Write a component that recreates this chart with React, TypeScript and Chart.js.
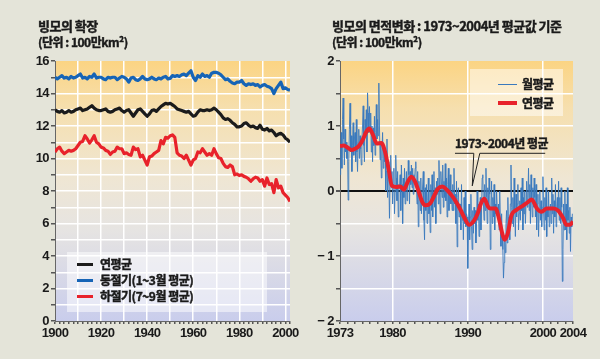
import { useEffect, useRef } from 'react';
import { Chart, registerables } from 'chart.js';

Chart.register(...registerables);

const NUM_FONT = "'Liberation Sans', Arial, sans-serif";
const KFONT = "'Noto Sans CJK KR', 'Noto Sans', sans-serif";

// ---------- Left chart: sea-ice extent (million km²), yearly 1900-2002 ----------
const extentStartYear = 1900;
const winterExtent = [
  15.0, 14.9, 15.0, 15.1, 14.95, 15.0, 14.9, 15.05, 14.95, 15.0,
  15.1, 15.2, 14.95, 15.0, 14.9, 15.05, 15.0, 15.2, 14.95, 15.0,
  15.0, 14.9, 14.85, 15.0, 14.95, 15.0, 15.0, 14.85, 14.95, 15.05,
  15.0, 14.9, 14.7, 14.95, 15.0, 14.85, 14.8, 14.9, 15.05, 14.9,
  14.85, 14.9, 15.0, 14.9, 14.85, 14.95, 14.9, 15.0, 15.05, 14.9,
  14.93, 15.1, 15.05, 15.1, 15.05, 15.15, 15.2, 15.1, 15.25, 15.4,
  15.0, 14.8, 15.1, 15.0, 15.2, 15.05, 15.1, 15.0, 15.25, 15.3,
  15.3, 15.25, 15.15, 15.0, 14.85, 14.9, 14.75, 14.65, 14.6, 14.7,
  14.7, 14.8, 14.6, 14.5, 14.6, 14.55, 14.6, 14.5, 14.55, 14.4,
  14.5, 14.55, 14.45, 14.4, 14.3, 14.0, 14.3, 14.5, 14.7, 14.3,
  14.35, 14.25, 14.2,
];
const annualExtent = [
  13.0, 12.9, 12.85, 12.95, 12.8, 12.85, 12.95, 12.85, 12.9, 13.0,
  13.05, 13.1, 12.95, 13.0, 13.05, 13.15, 13.25, 13.1, 13.0, 12.95,
  12.95, 13.0, 13.05, 12.9, 12.85, 12.9, 13.0, 13.05, 13.1, 12.95,
  12.85, 12.95, 13.0, 12.8, 12.6, 12.8, 13.0, 13.05, 12.9, 12.75,
  12.6, 12.75, 12.95, 13.0, 12.9, 13.05, 13.2, 13.3, 13.4, 13.35,
  13.4, 13.3, 13.2, 13.05, 13.0, 12.95, 12.9, 12.85, 12.9, 12.75,
  12.6, 12.65, 12.85, 13.0, 12.95, 12.95, 13.0, 12.95, 13.0, 13.1,
  13.0, 12.85, 12.7, 12.5, 12.4, 12.45, 12.35, 12.2, 12.1, 11.95,
  11.95, 12.0, 12.15, 12.2, 12.05, 11.95, 12.0, 11.9, 11.85, 12.05,
  11.8, 11.75, 11.85, 11.7, 11.75, 11.6, 11.4, 11.5, 11.55, 11.45,
  11.25, 11.15, 11.0,
];
const summerExtent = [
  10.4, 10.6, 10.7, 10.45, 10.3, 10.4, 10.5, 10.45, 10.5, 10.6,
  10.8, 11.0, 11.05, 11.4, 11.2, 10.95, 11.15, 11.4, 11.0, 10.9,
  10.7, 10.65, 10.5, 10.45, 10.25, 10.4, 10.45, 10.7, 10.6, 10.6,
  10.3, 10.35, 10.25, 10.2, 10.7, 10.55, 10.6, 10.1, 10.2, 9.9,
  9.6, 10.1, 10.15, 10.3, 10.4, 10.5, 11.1, 10.9, 11.3, 11.25,
  11.4, 11.45, 11.3, 10.35, 10.2, 10.15, 10.0, 10.2, 9.9, 9.6,
  9.9, 10.0, 10.4, 10.35, 10.6, 10.4, 10.2, 10.3, 10.2, 10.6,
  10.3, 10.05, 10.0, 9.7, 9.5, 9.45, 9.6, 9.5, 9.0, 9.05,
  8.95, 9.0, 8.9, 8.85, 8.75, 8.6, 8.75, 8.85, 8.8, 8.6,
  8.7, 8.3, 8.8, 8.4, 8.45, 7.9, 8.7, 8.2, 8.3, 7.9,
  7.75, 7.6, 7.35,
];
const extentLabels = ['연평균', '동절기(1~3월 평균)', '하절기(7~9월 평균)'];

// ---------- Right chart: anomaly vs 1973-2004 mean ----------
const anomalyStartYear = 1973;
const monthlyAnomaly = [
  0.25, 0.55, 0.9, 0.35, 1.1, 1.43, 0.8, 0.4, 0.95, 0.6, 0.75, 0.5,
  0.7, -0.14, 0.45, 0.95, 1.35, 0.6, 0.85, 0.3, 0.7, 1.05, 0.55, 0.8,
  0.9, 0.45, 1.1, 0.6, 0.3, 0.75, 0.95, 0.5, 0.85, 0.65, 0.4, 0.8,
  1.0, 1.31, 0.7, 0.45, 1.1, 0.85, 1.25, 0.6, 1.51, 1.2, 0.9, 1.3,
  0.95, 1.2, 0.6, 1.0, 0.45, 0.97, 0.7, 1.15, 0.55, 0.9, 1.33, 0.8,
  1.1, 0.85, 1.66, 1.0, 0.48, 0.75, 0.2, 0.6, 0.9, 0.35, 0.7, 0.45,
  0.6, 0.0, 0.3, 0.8, -0.1, 0.45, 0.2, -0.42, 0.15, 0.55, 0.05, 0.3,
  -0.2, 0.1, 0.35, -0.35, 0.0, 0.55, 0.2, -0.15, 0.3, -0.4, 0.1, 0.05,
  0.25, -0.3, 0.4, 0.1, -0.5, 0.2, -0.1, 0.35, -0.2, 0.05, 0.3, -0.15,
  0.1, 0.47, 0.25, -0.2, 0.3, 0.1, 0.4, 0.05, 0.35, -0.05, 0.25, 0.15,
  0.35, 0.45, 0.1, -0.2, 0.3, -0.55, 0.15, 0.0, -0.3, 0.2, -0.35, -0.1,
  -0.1, 0.3, -0.45, -0.75, 0.05, -0.3, 0.1, -0.5, -0.15, 0.2, -0.35, -0.2,
  -0.64, 0.1, -0.3, 0.25, -0.4, -0.1, 0.3, -0.25, 0.05, -0.5, 0.15, -0.05,
  0.2, -0.2, 0.47, 0.0, -0.35, 0.3, 0.1, -0.1, 0.4, -0.25, 0.15, -0.1,
  0.42, -0.15, 0.2, -0.4, 0.1, 0.35, -0.3, 0.05, 0.25, -0.2, 0.0, -0.3,
  0.1, -0.3, 0.35, -0.2, -0.05, -0.5, 0.15, -0.86, -0.1, 0.05, -0.4, -0.2,
  -0.2, -0.6, 0.1, -0.45, -0.3, -0.75, -0.1, -0.5, 0.0, -0.55, -0.35, -0.4,
  -1.19, -0.6, -0.2, -0.75, -0.4, -0.05, -0.55, -0.9, -0.3, -0.65, -0.25, -0.5,
  -0.3, -0.8, -0.5, 0.0, -0.45, -0.2, -0.7, -0.35, -0.1, -0.6, -0.25, 0.2,
  0.25, -0.2, -0.45, 0.1, -0.3, 0.35, -0.1, -0.5, 0.05, -0.25, 0.2, -0.05,
  -0.9, -0.3, 0.15, -0.5, -0.1, -0.4, 0.1, -0.6, -0.2, -0.35, 0.0, -0.25,
  -0.4, -0.2, -0.6, 0.0, -0.5, -0.85, -0.35, -0.65, -0.9, -1.34, -1.1, -0.7,
  -0.95, -0.5, -0.3, -0.8, -0.1, -0.6, -0.4, -0.75, -0.2, 0.4, -0.25, -0.5,
  -0.1, -0.55, 0.2, -0.3, -0.7, -0.05, -0.4, -0.2, 0.1, -0.6, -0.35, -0.15,
  -0.45, 0.05, -0.3, 0.2, -0.6, -0.1, -0.35, 0.0, -0.5, -0.2, 0.15, -0.25,
  -0.1, 0.35, -0.3, 0.1, -0.5, 0.25, -0.15, -0.4, 0.05, -0.25, 0.2, -0.1,
  -0.4, 0.1, -0.6, -0.2, -0.05, -0.7, -0.3, 0.0, -0.45, -0.15, -0.55, -0.25,
  0.22, -0.3, -0.6, -0.1, -0.45, 0.05, -0.7, -0.25, -0.4, 0.0, -0.55, -0.3,
  -0.2, -0.5, 0.2, -0.35, -0.05, -0.65, -0.15, -0.4, 0.1, -0.55, -0.25, -0.1,
  -0.3, 0.15, -0.45, -0.1, -0.5, 0.05, -0.25, -1.39, -0.9, -0.2, -0.6, 0.0,
  -0.6, -0.2, -0.75, 0.05, -0.45, -0.3, -0.65, -0.25, -0.93, -0.4, -0.55, -0.35,
];
const annualAnomalyYears = [
  1973.0, 1973.5, 1974.0, 1974.5, 1975.0, 1975.5, 1976.0, 1976.5, 1976.9, 1977.4,
  1977.9, 1978.5, 1979.0, 1979.5, 1979.9, 1980.5, 1981.0, 1981.5, 1982.0, 1982.5,
  1983.0, 1983.5, 1984.0, 1984.4, 1985.0, 1985.5, 1986.0, 1986.6, 1987.2, 1987.8,
  1988.4, 1989.0, 1989.5, 1990.2, 1990.8, 1991.3, 1991.8, 1992.2, 1992.7, 1993.0,
  1993.7, 1994.2, 1994.6, 1994.9, 1995.3, 1995.8, 1996.5, 1997.4, 1998.0, 1998.5,
  1999.2, 1999.8, 2000.5, 2001.4, 2002.0, 2002.7, 2003.1, 2003.6, 2004.0,
];
const annualAnomalyValues = [
  0.69, 0.7, 0.67, 0.63, 0.65, 0.69, 0.78, 0.91, 0.96, 0.86,
  0.73, 0.74, 0.6, 0.32, 0.08, 0.06, 0.07, 0.02, 0.14, 0.22,
  0.14, -0.02, -0.18, -0.22, -0.19, -0.08, 0.03, 0.07, 0.02, -0.06,
  -0.16, -0.28, -0.4, -0.52, -0.46, -0.35, -0.18, -0.12, -0.24, -0.27,
  -0.27, -0.45, -0.66, -0.75, -0.66, -0.38, -0.29, -0.22, -0.17, -0.13,
  -0.27, -0.32, -0.27, -0.27, -0.3, -0.42, -0.52, -0.52, -0.47,
];
const rightXLabelYears = [1973, 1980, 1990, 2000, 2004];
const rightGridYears = [1980, 1990, 2000];
const anomalyLabels = ['월평균', '연평균'];
const meanLabel = '1973~2004년 평균';

const BLACK = '#1b1b1b';
const BLUE = '#1664b6';
const RED = '#e8222b';
const THIN_BLUE = '#3a79bd';
const TEXT = '#1a1a1a';

const bgPlugin = {
  id: 'plotBg',
  beforeDraw(chart: any) {
    const a = chart.chartArea;
    const ctx = chart.ctx;
    const g = ctx.createLinearGradient(0, a.top, 0, a.bottom);
    g.addColorStop(0, '#fbd483');
    g.addColorStop(0.18, '#f6dfae');
    g.addColorStop(0.45, '#efe6d3');
    g.addColorStop(0.65, '#e6e4e2');
    g.addColorStop(1, '#c9cdec');
    ctx.save();
    ctx.fillStyle = g;
    ctx.fillRect(a.left, a.top, a.right - a.left, a.bottom - a.top);
    ctx.restore();
    // narrower tick numerals, like the condensed face of the original
    if ('letterSpacing' in ctx) ctx.letterSpacing = '-0.6px';
  },
};

const calloutPlugin = {
  id: 'callout',
  afterDatasetsDraw(chart: any) {
    const xs = chart.scales.x;
    const ys = chart.scales.y;
    const ctx = chart.ctx;
    const lineY = ys.getPixelForValue(0.58);
    ctx.save();
    ctx.strokeStyle = '#222';
    ctx.lineWidth = 1;
    ctx.beginPath();
    ctx.moveTo(xs.getPixelForValue(1988.3), lineY);
    ctx.lineTo(xs.getPixelForValue(1990.8), lineY);
    ctx.lineTo(xs.getPixelForValue(1990.6), ys.getPixelForValue(0.08));
    ctx.lineTo(xs.getPixelForValue(1991.6), lineY);
    ctx.lineTo(xs.getPixelForValue(2000.3), lineY);
    ctx.stroke();
    ctx.restore();
  },
};

const tickFont = { family: NUM_FONT, size: 13, weight: 'bold' as const };

function LeftChart() {
  const ref = useRef<HTMLCanvasElement>(null);
  useEffect(() => {
    const toPts = (arr: number[]) => arr.map((v, i) => ({ x: extentStartYear + i, y: v }));
    const chart = new Chart(ref.current!, {
      type: 'line',
      data: {
        datasets: [
          { label: extentLabels[0], data: toPts(annualExtent), borderColor: BLACK, borderWidth: 3.2, pointRadius: 0, borderJoinStyle: 'round' },
          { label: extentLabels[1], data: toPts(winterExtent), borderColor: BLUE, borderWidth: 3.2, pointRadius: 0, borderJoinStyle: 'round' },
          { label: extentLabels[2], data: toPts(summerExtent), borderColor: RED, borderWidth: 3.2, pointRadius: 0, borderJoinStyle: 'round' },
        ],
      },
      options: {
        responsive: false,
        animation: false,
        layout: { padding: { left: 0, top: 61, right: 10, bottom: 0 } },
        plugins: { legend: { display: false }, tooltip: { enabled: false } },
        scales: {
          x: {
            type: 'linear',
            min: 1900,
            max: 2002,
            afterFit: (s: any) => { s.height = 38; },
            ticks: {
              stepSize: 2,
              autoSkip: false,
              maxRotation: 0,
              padding: 2,
              color: TEXT,
              font: tickFont,
              callback: (v: any) => (Math.round(v) % 20 === 0 ? String(Math.round(v)) : ''),
            },
            grid: {
              color: (c: any) => {
                const v = Math.round(c.tick.value);
                return v % 10 === 0 && v !== 1900 ? '#ffffff' : 'rgba(0,0,0,0)';
              },
              lineWidth: 1.5,
              tickColor: '#555',
              tickLength: 3,
            },
            border: { color: '#666', width: 1 },
          },
          y: {
            min: 0,
            max: 16,
            afterFit: (s: any) => { s.width = 55; },
            ticks: {
              stepSize: 1,
              autoSkip: false,
              padding: 2,
              color: TEXT,
              font: tickFont,
              callback: (v: any) => (Math.round(v) % 2 === 0 ? String(Math.round(v)) : ''),
            },
            grid: {
              color: (c: any) => (c.tick.value > 0 && c.tick.value < 16 ? '#ffffff' : 'rgba(0,0,0,0)'),
              lineWidth: 1.5,
              tickColor: '#555',
              tickLength: 4,
            },
            border: { color: '#666', width: 1 },
          },
        },
      },
      plugins: [bgPlugin],
    });
    return () => chart.destroy();
  }, []);
  return <canvas ref={ref} width={300} height={359} style={{ position: 'absolute', left: 0, top: 0, width: 300, height: 359 }} />;
}

function RightChart() {
  const ref = useRef<HTMLCanvasElement>(null);
  useEffect(() => {
    const monthly = monthlyAnomaly.map((v, i) => ({ x: anomalyStartYear + i / 12, y: v }));
    const annual = annualAnomalyYears.map((yr, i) => ({ x: yr, y: annualAnomalyValues[i] }));
    const chart = new Chart(ref.current!, {
      type: 'line',
      data: {
        datasets: [
          { label: anomalyLabels[1], data: annual, borderColor: RED, borderWidth: 4, pointRadius: 0, cubicInterpolationMode: 'monotone', order: 0 },
          { label: anomalyLabels[0], data: monthly, borderColor: THIN_BLUE, borderWidth: 0.9, pointRadius: 0, order: 1 },
        ],
      },
      options: {
        responsive: false,
        animation: false,
        layout: { padding: { left: 0, top: 61, right: 27, bottom: 0 } },
        plugins: { legend: { display: false }, tooltip: { enabled: false } },
        scales: {
          x: {
            type: 'linear',
            min: 1973,
            max: 2004,
            afterFit: (s: any) => { s.height = 38; },
            ticks: {
              stepSize: 1,
              autoSkip: false,
              maxRotation: 0,
              padding: 2,
              color: TEXT,
              font: tickFont,
              callback: (v: any) => (rightXLabelYears.includes(Math.round(v)) ? String(Math.round(v)) : ''),
            },
            grid: {
              color: (c: any) => (rightGridYears.includes(Math.round(c.tick.value)) ? '#ffffff' : 'rgba(0,0,0,0)'),
              lineWidth: 1.5,
              tickColor: '#555',
              tickLength: 3,
            },
            border: { color: '#666', width: 1 },
          },
          y: {
            min: -2,
            max: 2,
            afterFit: (s: any) => { s.width = 40; },
            ticks: {
              stepSize: 0.5,
              autoSkip: false,
              padding: 2,
              color: TEXT,
              font: tickFont,
              callback: (v: any) => {
                if (Math.abs(v - Math.round(v)) > 1e-6) return '';
                const n = Math.round(v);
                return n < 0 ? '− ' + Math.abs(n) : String(n);
              },
            },
            grid: {
              color: (c: any) => {
                const v = c.tick.value;
                if (Math.abs(v) < 1e-6) return '#111111';
                return Math.abs(v) < 1.99 ? '#ffffff' : 'rgba(0,0,0,0)';
              },
              lineWidth: (c: any) => (Math.abs(c.tick.value) < 1e-6 ? 2 : 1.5),
              tickColor: '#555',
              tickLength: 4,
            },
            border: { color: '#666', width: 1 },
          },
        },
      },
      plugins: [bgPlugin, calloutPlugin],
    });
    return () => chart.destroy();
  }, []);
  return <canvas ref={ref} width={300} height={359} style={{ position: 'absolute', left: 300, top: 0, width: 300, height: 359 }} />;
}

const txt = (extra: any) => ({
  position: 'absolute' as const,
  fontFamily: KFONT,
  fontWeight: 700,
  fontSize: 12,
  letterSpacing: '-0.5px',
  lineHeight: 1,
  color: TEXT,
  whiteSpace: 'nowrap' as const,
  WebkitTextStroke: '0.45px #1a1a1a',
  ...extra,
});

export default function App() {
  return (
    <div style={{ position: 'fixed', left: 0, top: 0, width: 600, height: 359, background: '#e4e4d9', overflow: 'hidden' }}>
      <LeftChart />
      <RightChart />
      <div style={txt({ left: 38, top: 19, fontSize: 13 })}>빙모의 확장</div>
      <div style={txt({ left: 38, top: 36 })}>(단위 : 100만km²)</div>
      <div style={txt({ left: 332, top: 19, fontSize: 13 })}>빙모의 면적변화 : 1973~2004년 평균값 기준</div>
      <div style={txt({ left: 332, top: 36 })}>(단위 : 100만km²)</div>

      <div style={{ position: 'absolute', left: 67, top: 252, width: 200, height: 60, background: 'rgba(255,255,255,0.5)' }} />
      {extentLabels.map((lab, i) => (
        <div key={lab}>
          <div style={{ position: 'absolute', left: 77, top: 264 + i * 16 - 1.5, width: 16, height: 3, background: [BLACK, BLUE, RED][i] }} />
          <div style={txt({ left: 100, top: 258 + i * 16 })}>{lab}</div>
        </div>
      ))}

      <div style={{ position: 'absolute', left: 470, top: 69, width: 93, height: 47, background: 'rgba(255,255,255,0.5)' }} />
      <div style={{ position: 'absolute', left: 498, top: 84, width: 19, height: 1, background: THIN_BLUE }} />
      <div style={txt({ left: 522, top: 78 })}>{anomalyLabels[0]}</div>
      <div style={{ position: 'absolute', left: 498, top: 101, width: 19, height: 4, background: RED }} />
      <div style={txt({ left: 522, top: 97 })}>{anomalyLabels[1]}</div>

      <div style={txt({ left: 455, top: 137 })}>{meanLabel}</div>
    </div>
  );
}
